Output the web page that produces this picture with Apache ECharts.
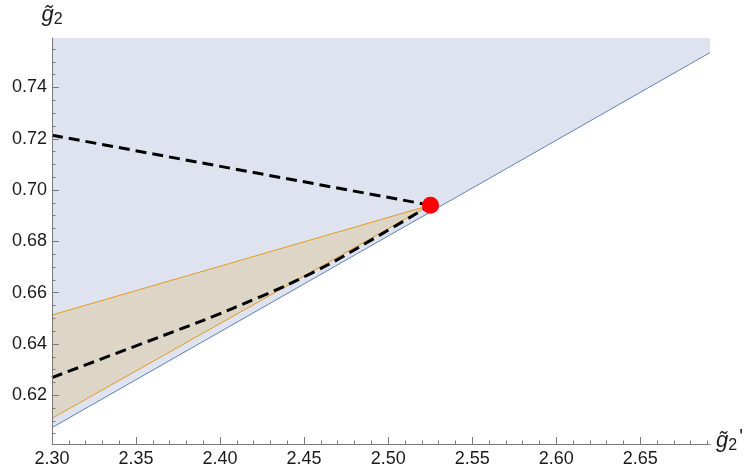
<!DOCTYPE html>
<html>
<head>
<meta charset="utf-8">
<script src="https://cdn.jsdelivr.net/npm/echarts@6/dist/echarts.min.js"></script>
<style>html,body{margin:0;padding:0;background:#fff}#c{width:753px;height:472px}</style>
</head>
<body>
<div id="c"></div>
<script>
// ---- data ----
var xRange = [2.30, 2.6915];
var yRange = [0.601, 0.7593];
var xTickLabels = [2.30, 2.35, 2.40, 2.45, 2.50, 2.55, 2.60, 2.65];
var yTickLabels = [0.62, 0.64, 0.66, 0.68, 0.70, 0.72, 0.74];

var blueX = [2.30, 2.6915];
var blueY = [0.6074, 0.7536];

var orangeX = [2.30, 2.5245];
var orangeLow = [0.6110, 0.6940];
var orangeHigh = [0.6513, 0.6940];

var dashUpperX = [2.30, 2.5252];
var dashUpperY = [0.7214, 0.6941];

var dashLowerX = [2.30, 2.388, 2.4076, 2.44, 2.4683, 2.5252];
var dashLowerY = [0.6269, 0.6487, 0.6539, 0.6630, 0.6723, 0.6941];

var pointX = [2.5252];
var pointY = [0.6941];

// ---- build ----
function pairs(xs, ys) { return xs.map(function (x, i) { return [x, ys[i]]; }); }
var xMinor = [], yMinor = [];
for (var i = 0; i <= 39; i++) { var v = +(2.30 + i * 0.01).toFixed(2); if (v <= xRange[1]) xMinor.push(v); }
for (var j = 0; j <= 40; j++) { var w = +(0.605 + j * 0.005).toFixed(3); if (w <= yRange[1]) yMinor.push(w); }

var blueFill = '#dfe3ef';
var tanFill = '#ddd6c6';
var axisColor = '#7a7a7a';
var labelStyle = { color: '#1a1a1a', fontSize: 18, fontFamily: 'Liberation Sans, Arial, sans-serif' };
var nameRich = {
  g: { fontFamily: 'Liberation Sans', fontStyle: 'italic', fontSize: 22, color: '#1a1a1a' },
  s: { fontFamily: 'Liberation Sans', fontSize: 16, color: '#1a1a1a', padding: [10, 0, 0, 0] },
  p: { fontFamily: 'Liberation Sans', fontSize: 20, color: '#1a1a1a', padding: [0, 0, 8, 2] }
};

var chart = echarts.init(document.getElementById('c'));
chart.setOption({
  animation: false,
  grid: { left: 52, right: 43, top: 38, bottom: 28, outerBoundsMode: 'none', containLabel: false },
  xAxis: [
    {
      type: 'value', min: xRange[0], max: xRange[1], position: 'bottom', z: 10,
      name: '{g|g\u0303}{s|2}{p|\'}', nameLocation: 'end', nameGap: 6,
      nameTextStyle: { rich: nameRich, verticalAlign: 'middle', padding: [0, 0, 6, 0] },
      axisLine: { show: true, onZero: false, lineStyle: { color: axisColor, width: 1 } },
      axisTick: { show: true, inside: true, length: 7, customValues: xTickLabels, lineStyle: { color: axisColor } },
      axisLabel: { customValues: xTickLabels, margin: 6, formatter: function (v) { return v.toFixed(2); }, textStyle: labelStyle },
      splitLine: { show: false }
    },
    {
      type: 'value', min: xRange[0], max: xRange[1], position: 'bottom', offset: 0, z: 10,
      axisLine: { show: false, onZero: false },
      axisTick: { show: true, inside: true, length: 3.5, customValues: xMinor, lineStyle: { color: axisColor } },
      axisLabel: { show: false },
      splitLine: { show: false }
    }
  ],
  yAxis: [
    {
      type: 'value', min: yRange[0], max: yRange[1], position: 'left', z: 10,
      name: '{g|g\u0303}{s|2}', nameLocation: 'end', nameGap: 10,
      nameTextStyle: { rich: nameRich, align: 'center' },
      axisLine: { show: true, onZero: false, lineStyle: { color: axisColor, width: 1 } },
      axisTick: { show: true, inside: true, length: 7, customValues: yTickLabels, lineStyle: { color: axisColor } },
      axisLabel: { customValues: yTickLabels, margin: 5, formatter: function (v) { return v.toFixed(2); }, textStyle: labelStyle },
      splitLine: { show: false }
    },
    {
      type: 'value', min: yRange[0], max: yRange[1], position: 'left', offset: 0, z: 10,
      axisLine: { show: false, onZero: false },
      axisTick: { show: true, inside: true, length: 3.5, customValues: yMinor, lineStyle: { color: axisColor } },
      axisLabel: { show: false },
      splitLine: { show: false }
    }
  ],
  series: [
    { // blue region above the blue boundary line
      type: 'line', data: pairs(blueX, blueY), symbol: 'none', z: 1,
      lineStyle: { width: 0, opacity: 0 },
      areaStyle: { origin: 'end', color: blueFill, opacity: 1 }
    },
    { // tan fill below upper orange line
      type: 'line', data: pairs(orangeX, orangeHigh), symbol: 'none', z: 2,
      lineStyle: { color: '#e19c24', width: 1 },
      areaStyle: { origin: 'start', color: tanFill, opacity: 1 }
    },
    { // blue fill below lower orange line
      type: 'line', data: pairs(orangeX, orangeLow), symbol: 'none', z: 3,
      lineStyle: { width: 0, opacity: 0 },
      areaStyle: { origin: 'start', color: blueFill, opacity: 1 }
    },
    { // white below the blue boundary line
      type: 'line', data: pairs(blueX, blueY), symbol: 'none', z: 4,
      lineStyle: { color: '#5e81b5', width: 1 },
      areaStyle: { origin: 'start', color: '#ffffff', opacity: 1 }
    },
    { // lower orange line on top
      type: 'line', data: pairs(orangeX, orangeLow), symbol: 'none', z: 5,
      lineStyle: { color: '#e19c24', width: 1 }
    },
    {
      type: 'line', data: pairs(dashUpperX, dashUpperY), symbol: 'none', z: 6,
      lineStyle: { color: '#000', width: 3, type: [11, 6] }
    },
    {
      type: 'line', data: pairs(dashLowerX, dashLowerY), symbol: 'none', smooth: 0.2, z: 6,
      lineStyle: { color: '#000', width: 3, type: [11, 6] }
    },
    {
      type: 'scatter', data: pairs(pointX, pointY), symbol: 'circle', symbolSize: 17, z: 7,
      itemStyle: { color: '#ff0000', opacity: 1 }
    }
  ]
});
</script>
</body>
</html>
